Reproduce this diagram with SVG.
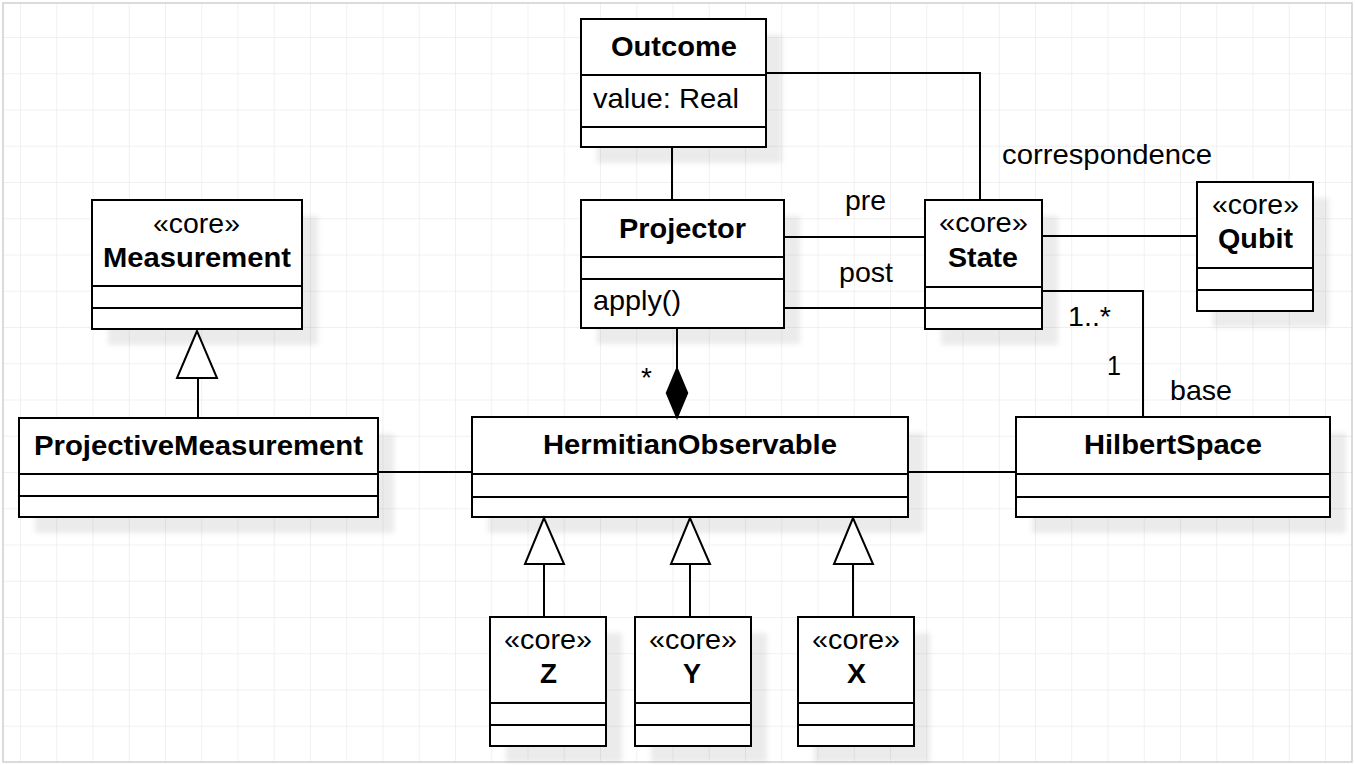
<svg xmlns="http://www.w3.org/2000/svg" width="1355" height="765" viewBox="0 0 1355 765">
<defs>
<pattern id="grid" x="20" y="37" width="36.25" height="36.25" patternUnits="userSpaceOnUse">
<path d="M0,0 H36.25 M0,0 V36.25" fill="none" stroke="#ececec" stroke-width="1.5"/>
</pattern>
<filter id="blur" x="-10%" y="-10%" width="120%" height="120%">
<feGaussianBlur stdDeviation="2.5"/>
</filter>
</defs>
<style>
.box{fill:#fff;stroke:#000;stroke-width:2}
.div{stroke:#000;stroke-width:2}
.sh{fill:#000;fill-opacity:0.08;filter:url(#blur)}
.t{font-family:"Liberation Sans",Arial,sans-serif;font-size:28px;fill:#000}
.b{font-weight:bold}
.ln{fill:none;stroke:#000;stroke-width:2}
.gen{fill:#fff;stroke:#000;stroke-width:2}
.dia{fill:#000;stroke:#000;stroke-width:1.5}
</style>
<rect x="0" y="0" width="1355" height="765" fill="#fff"/>
<rect x="3" y="3" width="1349" height="759" fill="url(#grid)" stroke="#cfcfcf" stroke-width="1.5"/>

<g id="Outcome">
<rect class="sh" x="597" y="35" width="185" height="128"/>
<rect class="box" x="581" y="19" width="185" height="128"/>
<line class="div" x1="581" y1="75" x2="766" y2="75"/>
<line class="div" x1="581" y1="127" x2="766" y2="127"/>
<text class="t b" x="611" y="56" textLength="126" lengthAdjust="spacingAndGlyphs">Outcome</text>
<text class="t" x="593" y="108" textLength="146" lengthAdjust="spacingAndGlyphs">value: Real</text>
</g>

<g id="Projector">
<rect class="sh" x="597" y="216" width="203" height="128"/>
<rect class="box" x="581" y="200" width="203" height="128"/>
<line class="div" x1="581" y1="257" x2="784" y2="257"/>
<line class="div" x1="581" y1="279" x2="784" y2="279"/>
<text class="t b" x="619" y="238" textLength="127" lengthAdjust="spacingAndGlyphs">Projector</text>
<text class="t" x="593" y="310" textLength="88" lengthAdjust="spacingAndGlyphs">apply()</text>
</g>

<g id="State">
<rect class="sh" x="941" y="216" width="117" height="129"/>
<rect class="box" x="925" y="200" width="117" height="129"/>
<line class="div" x1="925" y1="287" x2="1042" y2="287"/>
<line class="div" x1="925" y1="308" x2="1042" y2="308"/>
<text class="t" x="939" y="232" textLength="89" lengthAdjust="spacingAndGlyphs">«core»</text>
<text class="t b" x="948" y="267" textLength="70" lengthAdjust="spacingAndGlyphs">State</text>
</g>

<g id="Qubit">
<rect class="sh" x="1213" y="198" width="116" height="129"/>
<rect class="box" x="1197" y="182" width="116" height="129"/>
<line class="div" x1="1197" y1="268" x2="1313" y2="268"/>
<line class="div" x1="1197" y1="290" x2="1313" y2="290"/>
<text class="t" x="1212" y="214" textLength="87" lengthAdjust="spacingAndGlyphs">«core»</text>
<text class="t b" x="1218" y="248" textLength="75" lengthAdjust="spacingAndGlyphs">Qubit</text>
</g>

<g id="Measurement">
<rect class="sh" x="108" y="216" width="210" height="129"/>
<rect class="box" x="92" y="200" width="210" height="129"/>
<line class="div" x1="92" y1="286" x2="302" y2="286"/>
<line class="div" x1="92" y1="308" x2="302" y2="308"/>
<text class="t" x="153" y="233" textLength="87" lengthAdjust="spacingAndGlyphs">«core»</text>
<text class="t b" x="103" y="267" textLength="188" lengthAdjust="spacingAndGlyphs">Measurement</text>
</g>

<g id="ProjectiveMeasurement">
<rect class="sh" x="35" y="434" width="359" height="99"/>
<rect class="box" x="19" y="418" width="359" height="99"/>
<line class="div" x1="19" y1="474" x2="378" y2="474"/>
<line class="div" x1="19" y1="496" x2="378" y2="496"/>
<text class="t b" x="34" y="455" textLength="329" lengthAdjust="spacingAndGlyphs">ProjectiveMeasurement</text>
</g>

<g id="HermitianObservable">
<rect class="sh" x="488" y="433" width="436" height="100"/>
<rect class="box" x="472" y="417" width="436" height="100"/>
<line class="div" x1="472" y1="474" x2="908" y2="474"/>
<line class="div" x1="472" y1="497" x2="908" y2="497"/>
<text class="t b" x="543" y="454" textLength="294" lengthAdjust="spacingAndGlyphs">HermitianObservable</text>
</g>

<g id="HilbertSpace">
<rect class="sh" x="1032" y="433" width="314" height="100"/>
<rect class="box" x="1016" y="417" width="314" height="100"/>
<line class="div" x1="1016" y1="474" x2="1330" y2="474"/>
<line class="div" x1="1016" y1="497" x2="1330" y2="497"/>
<text class="t b" x="1084" y="454" textLength="178" lengthAdjust="spacingAndGlyphs">HilbertSpace</text>
</g>

<g id="Z">
<rect class="sh" x="506" y="633" width="116" height="129"/>
<rect class="box" x="490" y="617" width="116" height="129"/>
<line class="div" x1="490" y1="703" x2="606" y2="703"/>
<line class="div" x1="490" y1="725" x2="606" y2="725"/>
<text class="t" x="504" y="649" textLength="88" lengthAdjust="spacingAndGlyphs">«core»</text>
<text class="t b" x="540" y="683" textLength="17" lengthAdjust="spacingAndGlyphs">Z</text>
</g>

<g id="Y">
<rect class="sh" x="651" y="633" width="116" height="129"/>
<rect class="box" x="635" y="617" width="116" height="129"/>
<line class="div" x1="635" y1="703" x2="751" y2="703"/>
<line class="div" x1="635" y1="725" x2="751" y2="725"/>
<text class="t" x="649" y="649" textLength="88" lengthAdjust="spacingAndGlyphs">«core»</text>
<text class="t b" x="683" y="683" textLength="18" lengthAdjust="spacingAndGlyphs">Y</text>
</g>

<g id="X">
<rect class="sh" x="814" y="633" width="116" height="129"/>
<rect class="box" x="798" y="617" width="116" height="129"/>
<line class="div" x1="798" y1="703" x2="914" y2="703"/>
<line class="div" x1="798" y1="725" x2="914" y2="725"/>
<text class="t" x="812" y="649" textLength="88" lengthAdjust="spacingAndGlyphs">«core»</text>
<text class="t b" x="847" y="683" textLength="19" lengthAdjust="spacingAndGlyphs">X</text>
</g>

<g id="connectors">
<path class="ln" d="M672,147 V200"/>
<path class="ln" d="M766,73 H980 V200"/>
<path class="ln" d="M784,237 H925"/>
<path class="ln" d="M784,308 H925"/>
<path class="ln" d="M1042,236 H1197"/>
<path class="ln" d="M1042,291 H1143 V417"/>
<path class="ln" d="M677,328 V368"/>
<polygon class="dia" points="677,368 687.5,393 677,418 666.5,393"/>
<path class="ln" d="M378,472 H472"/>
<path class="ln" d="M908,472 H1016"/>
<path class="ln" d="M198,418 V378"/>
<polygon class="gen" points="197,331 177,378 217,378"/>
<path class="ln" d="M544,617 V564"/>
<polygon class="gen" points="544,518 525,564 564,564"/>
<path class="ln" d="M690,617 V564"/>
<polygon class="gen" points="690,518 671,564 710,564"/>
<path class="ln" d="M853,617 V564"/>
<polygon class="gen" points="853,518 834,564 873,564"/>
<text class="t" x="1002" y="164" textLength="210" lengthAdjust="spacingAndGlyphs">correspondence</text>
<text class="t" x="845" y="210" textLength="41" lengthAdjust="spacingAndGlyphs">pre</text>
<text class="t" x="839" y="282" textLength="54" lengthAdjust="spacingAndGlyphs">post</text>
<text class="t" x="1068" y="326" textLength="43" lengthAdjust="spacingAndGlyphs">1..*</text>
<text class="t" x="1107" y="375" textLength="14" lengthAdjust="spacingAndGlyphs">1</text>
<text class="t" x="1170" y="400" textLength="62" lengthAdjust="spacingAndGlyphs">base</text>
<text class="t" x="641" y="387">*</text>
</g>
</svg>
